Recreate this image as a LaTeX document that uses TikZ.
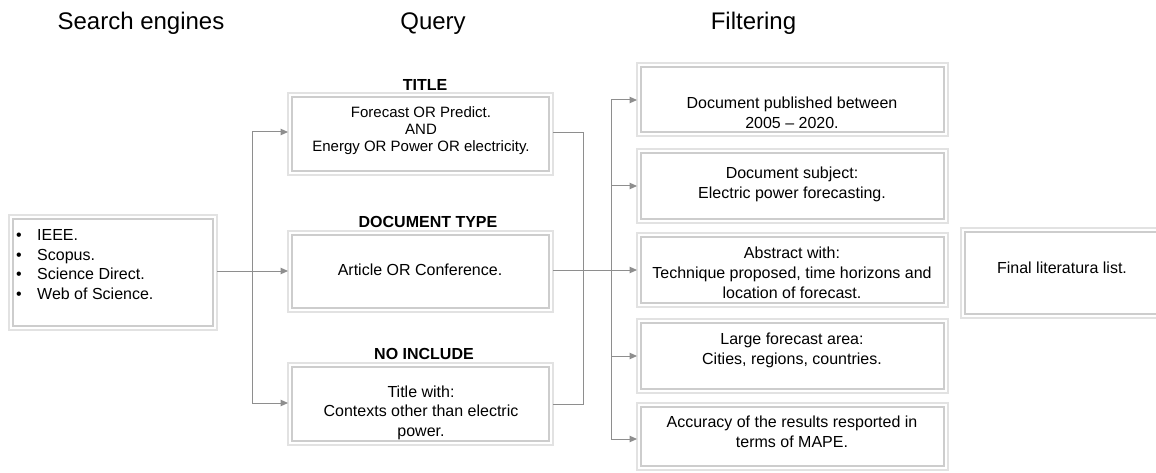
\documentclass[tikz,border=0pt]{standalone}
\usepackage{fontspec}
\setmainfont{Liberation Sans}
\usetikzlibrary{arrows.meta}
\definecolor{outerc}{HTML}{E2E2E2}
\definecolor{innerc}{HTML}{CDCDCD}
\definecolor{linec}{HTML}{8E8E8E}
\begin{document}
\begin{tikzpicture}[x=1pt,y=-1pt,
  frame/.style={draw=outerc, line width=1.5pt, inner sep=0pt, outer sep=0pt, fill=white,
    path picture={\draw[innerc, line width=1.2pt]
      ([shift={(4pt,-4pt)}]path picture bounding box.north west) rectangle
      ([shift={(-4pt,4pt)}]path picture bounding box.south east);}},
  heading/.style={font=\fontsize{24}{28}\selectfont, anchor=base, inner sep=0pt},
  label/.style={font=\bfseries\fontsize{16}{19}\selectfont, inner sep=0pt},
  body/.style={font=\fontsize{16}{20}\selectfont, align=center, inner sep=0pt},
  conn/.style={draw=linec, line width=1pt},
  arr/.style={conn, -{Triangle[length=7.5pt,width=6.5pt,fill=linec]}}
]
\useasboundingbox (0,0) rectangle (1156,473);

% headings
\node[heading] (hse) at (141,30) {Search engines};
\node[heading] (hq) at (433,30) {Query};
\node[heading] (hf) at (753.5,30) {Filtering};

% boxes
\node[frame, minimum width=208pt, minimum height=115pt] (se) at (113,272.5) {};
\node[frame, minimum width=265pt, minimum height=82pt] (title) at (420.5,134) {};
\node[frame, minimum width=265pt, minimum height=81pt] (doct) at (420.5,271.5) {};
\node[frame, minimum width=265pt, minimum height=82pt] (noinc) at (420.5,404) {};
\node[frame, minimum width=311pt, minimum height=73pt] (f1) at (792.5,99.5) {};
\node[frame, minimum width=311pt, minimum height=74pt] (f2) at (792.5,186) {};
\node[frame, minimum width=311pt, minimum height=74pt] (f3) at (792.5,270) {};
\node[frame, minimum width=311pt, minimum height=74pt] (f4) at (792.5,356) {};
\node[frame, minimum width=311pt, minimum height=67pt] (f5) at (792.5,436.5) {};
\node[frame, minimum width=201pt, minimum height=90pt] (final) at (1061.5,273) {};

% labels
\node[label] (ltitle) at (425,85) {TITLE};
\node[label] (ldoct) at (428,222) {DOCUMENT TYPE};
\node[label] (lnoinc) at (424,354) {NO INCLUDE};

% texts
\node[font=\fontsize{16}{19.5}\selectfont, align=left, inner sep=0pt, anchor=north west] (setext) at (16,229.5)
  {\makebox[21pt][l]{•}IEEE.\\ \makebox[21pt][l]{•}Scopus.\\ \makebox[21pt][l]{•}Science Direct.\\ \makebox[21pt][l]{•}Web of Science.};
\node[body, font=\fontsize{15}{17}\selectfont] (ttitle) at (421,130.5) {Forecast OR Predict.\\AND\\Energy OR Power OR electricity.};
\node[body] (tdoct) at (420,270) {Article OR Conference.};
\node[body, font=\fontsize{16}{19.5}\selectfont] (tnoinc) at (421,412.5) {Title with:\\Contexts other than electric\\power.};
\node[body] (tf1) at (792,113) {Document published between\\2005 -- 2020.};
\node[body] (tf2) at (792,184.5) {Document subject:\\Electric power forecasting.};
\node[body] (tf3) at (792,273) {Abstract with:\\Technique proposed, time horizons and\\location of forecast.};
\node[body] (tf4) at (792,350.5) {Large forecast area:\\Cities, regions, countries.};
\node[body] (tf5) at (792,432) {Accuracy of the results resported in\\terms of MAPE.};
\node[body] (tfinal) at (1062,268) {Final literatura list.};

% connectors
\coordinate (j1) at (252,271);
\coordinate (j1t) at (252,132);
\coordinate (j1b) at (252,403);
\draw[conn] (se.east |- j1) -- (j1);
\draw[conn] (j1t) -- (j1b);
\draw[arr] (j1t) -- (title.west |- j1t);
\draw[arr] (j1) -- (doct.west |- j1);
\draw[arr] (j1b) -- (noinc.west |- j1b);

\coordinate (j2t) at (583,133);
\coordinate (j2b) at (583,404);
\draw[conn] (title.east |- j2t) -- (j2t) -- (j2b) -- (noinc.east |- j2b);

\coordinate (j3t) at (611,100);
\coordinate (j3b) at (611,439);
\draw[conn] (j3t) -- (j3b);
\draw[arr] (doct.east |- 0,270) -- (f3.west |- 0,270);
\draw[arr] (j3t) -- (f1.west |- j3t);
\draw[arr] (611,186) -- (f2.west |- 0,186);
\draw[arr] (611,356) -- (f4.west |- 0,356);
\draw[arr] (j3b) -- (f5.west |- j3b);
\end{tikzpicture}
\end{document}
